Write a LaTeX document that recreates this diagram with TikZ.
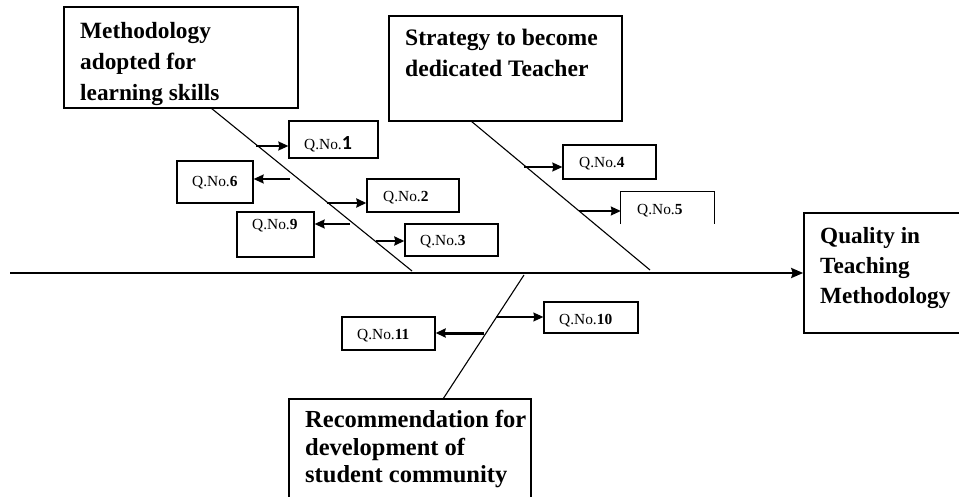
\documentclass[tikz,border=0pt]{standalone}
\usepackage{fontspec}
\setmainfont{Liberation Serif}
\newfontfamily\digitfont{Carlito}
\usetikzlibrary{arrows.meta}
\begin{document}
\begin{tikzpicture}[x=1pt,y=-1pt,
  bigbox/.style={draw,line width=1.6pt,inner sep=0pt},
  bigtext/.style={anchor=north west,inner sep=0pt,align=left},
  qbox/.style={draw,line width=1.3pt,inner sep=0pt},
  qtext/.style={anchor=base west,inner sep=0pt,font=\fontsize{15.4}{18}\selectfont},
  branch/.style={line width=1.1pt},
  tip/.style={-{Stealth[length=10pt,width=9pt,inset=1pt]},line width=1.4pt},
  thicktip/.style={-{Stealth[length=10pt,width=9pt,inset=1pt]},line width=2.2pt},
]
\useasboundingbox (0,0) rectangle (959,497);
\clip (0,0) rectangle (959,497);

% big boxes
\node[bigbox,minimum width=234pt,minimum height=101pt] (boxA) at (181,57.5) {};
\node[bigtext,font=\fontsize{23.3}{31}\selectfont\bfseries] (txtA) at (80,22.3) {Methodology\\adopted for\\learning skills};

\node[bigbox,minimum width=233pt,minimum height=105pt] (boxB) at (505.5,68.5) {};
\node[bigtext,font=\fontsize{23.6}{31}\selectfont\bfseries] (txtB) at (405,29) {Strategy to become\\dedicated Teacher};

\node[bigbox,minimum width=180pt,minimum height=120pt] (boxQ) at (894,273) {};
\node[bigtext,font=\fontsize{23.2}{30}\selectfont\bfseries] (txtQ) at (820,227.3) {Quality in\\Teaching\\Methodology};

\node[bigbox,minimum width=242pt,minimum height=120pt] (boxR) at (410,459) {};
\node[bigtext,font=\fontsize{24.5}{27.5}\selectfont\bfseries] (txtR) at (305,410.4) {Recommendation for\\development of\\student community};

% spine and branches
\coordinate (spineL) at (10,273);
\draw[line width=2.4pt,-{Stealth[length=12pt,width=10pt,inset=1.5pt]}] (spineL) -- (boxQ.west);

\coordinate (aTop) at (211,108);
\coordinate (aBot) at (412,271);
\draw[branch] (aTop) -- (aBot);
\coordinate (bTop) at (471,121);
\coordinate (bBot) at (650,270);
\draw[branch] (bTop) -- (bBot);
\coordinate (cBot) at (443,399);
\coordinate (cTop) at (524,275);
\draw[branch] (cBot) -- (cTop);

% Q boxes
\node[qbox,minimum width=89pt,minimum height=37pt] (q1) at (333.5,139.5) {};
\node[qtext] (t1) at (304,150) {Q.No.{\digitfont\bfseries\fontsize{20}{20}\selectfont 1}};
\node[qbox,minimum width=76pt,minimum height=42pt] (q6) at (215,182) {};
\node[qtext] (t6) at (192,187) {Q.No.\textbf{6}};
\node[qbox,minimum width=92pt,minimum height=33pt] (q2) at (413,195.5) {};
\node[qtext] (t2) at (383,202) {Q.No.\textbf{2}};
\node[qbox,minimum width=77pt,minimum height=45pt] (q9) at (275.5,234.5) {};
\node[qtext] (t9) at (252,230) {Q.No.\textbf{9}};
\node[qbox,minimum width=93pt,minimum height=32pt] (q3) at (451.5,240) {};
\node[qtext] (t3) at (420,246) {Q.No.\textbf{3}};
\node[qbox,minimum width=93pt,minimum height=34pt] (q4) at (609.5,162) {};
\node[qtext] (t4) at (579,168) {Q.No.\textbf{4}};
\node[minimum width=93pt,minimum height=32pt,inner sep=0pt] (q5) at (667.5,208) {};
\draw[line width=1.3pt] (q5.south west) -- (q5.north west) -- (q5.north east) -- (q5.south east);
\node[qtext] (t5) at (637,215) {Q.No.\textbf{5}};
\node[qbox,minimum width=93pt,minimum height=33pt] (q11) at (388.5,333.5) {};
\node[qtext] (t11) at (357,339) {Q.No.\textbf{11}};
\node[qbox,minimum width=94pt,minimum height=31pt] (q10) at (591,317.5) {};
\node[qtext] (t10) at (559,324) {Q.No.\textbf{10}};

% arrow start points
\coordinate (s1) at (256,146);
\coordinate (s6) at (290,179);
\coordinate (s2) at (327,203);
\coordinate (s9) at (350,224);
\coordinate (s3) at (376,241);
\coordinate (s4) at (524,167);
\coordinate (s5) at (579,211);
\coordinate (s11) at (484,333);
\coordinate (s10) at (496,317);

\draw[tip] (s1) -- (s1 -| q1.west);
\draw[tip] (s6) -- (s6 -| q6.east);
\draw[thicktip] (s2) -- (s2 -| q2.west);
\draw[tip] (s9) -- (s9 -| q9.east);
\draw[thicktip] (s3) -- (s3 -| q3.west);
\draw[tip] (s4) -- (s4 -| q4.west);
\draw[tip] (s5) -- (s5 -| q5.west);
\draw[line width=3pt,-{Stealth[length=10pt,width=9pt,inset=1pt]}] (s11) -- (s11 -| q11.east);
\draw[tip,line width=1.1pt] (s10) -- (s10 -| q10.west);
\end{tikzpicture}
\end{document}
